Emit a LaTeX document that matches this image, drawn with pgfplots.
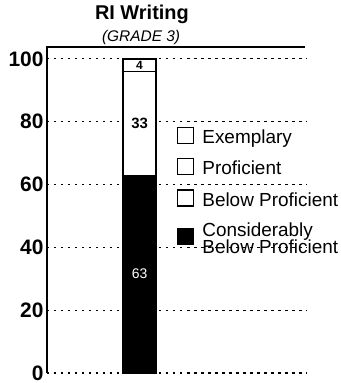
\documentclass[border=0pt]{standalone}
\usepackage{fontspec}
\setmainfont{Liberation Sans}
\usepackage{pgfplots}
\pgfplotsset{compat=1.18}
\begin{document}
\begin{tikzpicture}
\begin{axis}[
  at={(0,0)}, anchor=south west,
  scale only axis, width=260bp, height=326bp,
  xmin=0, xmax=1, ymin=0, ymax=103.8,
  ybar stacked, bar width=33bp,
  xtick=\empty,
  ytick={0,20,40,60,80,100},
  ymajorgrids,
  grid style={black, line width=1.1bp, dash pattern=on 2.5bp off 4.5bp},
  major tick length=0pt,
  axis line style={draw=none},
  yticklabel style={font=\fontsize{21}{21}\selectfont\bfseries, inner ysep=0pt},
  /pgf/number format/assume math mode=true,
  clip=false,
  legend style={at={(rel axis cs:0.5,0.755)}, anchor=north west, draw=none, fill=none,
    font=\fontsize{19}{14.5}\selectfont, row sep=11bp, column sep=6bp, inner sep=0pt,
    cells={align=left, anchor=base west}},
  legend cell align=left,
  legend image code/.code={\draw[line width=1.2bp, draw=black, #1] (0bp,-6bp) rectangle (16bp,10bp);},
]
\addplot[fill=black, draw=black, line width=1.2bp, forget plot] coordinates {(0.356,63)};
\addplot[fill=white, draw=black, line width=1.2bp, forget plot] coordinates {(0.356,33)};
\addplot[fill=white, draw=black, line width=1.2bp, forget plot] coordinates {(0.356,4)};
\addlegendimage{fill=white}
\addlegendentry{Exemplary}
\addlegendimage{fill=white}
\addlegendentry{Proficient}
\addlegendimage{fill=white}
\addlegendentry{Below Proficient}
\addlegendimage{fill=black}
\addlegendentry{Considerably\\[-2bp]Below Proficient}
\coordinate (l33) at (axis cs:0.356,79.5);
\coordinate (l4) at (axis cs:0.356,98);
\coordinate (l63) at (axis cs:0.356,31.5);
\node[anchor=base, font=\fontsize{20}{20}\selectfont\bfseries] at (rel axis cs:0.365,1.083) {RI Writing};
\node[anchor=base, font=\fontsize{15.5}{15.5}\selectfont\itshape] at (rel axis cs:0.362,1.018) {(GRADE 3)};
\draw[line width=1.5bp] (rel axis cs:0,0) -- (rel axis cs:0,1) -- (rel axis cs:0.992,1);
\end{axis}
\node[font=\fontsize{15}{15}\selectfont\bfseries] at (l33) {33};
\node[font=\fontsize{12}{12}\selectfont\bfseries] at (l4) {4};
\node[white, font=\fontsize{14}{14}\selectfont] at (l63) {63};
\pgfresetboundingbox
\path (-47bp,-10bp) rectangle (294bp,373bp);
\end{tikzpicture}
\end{document}
